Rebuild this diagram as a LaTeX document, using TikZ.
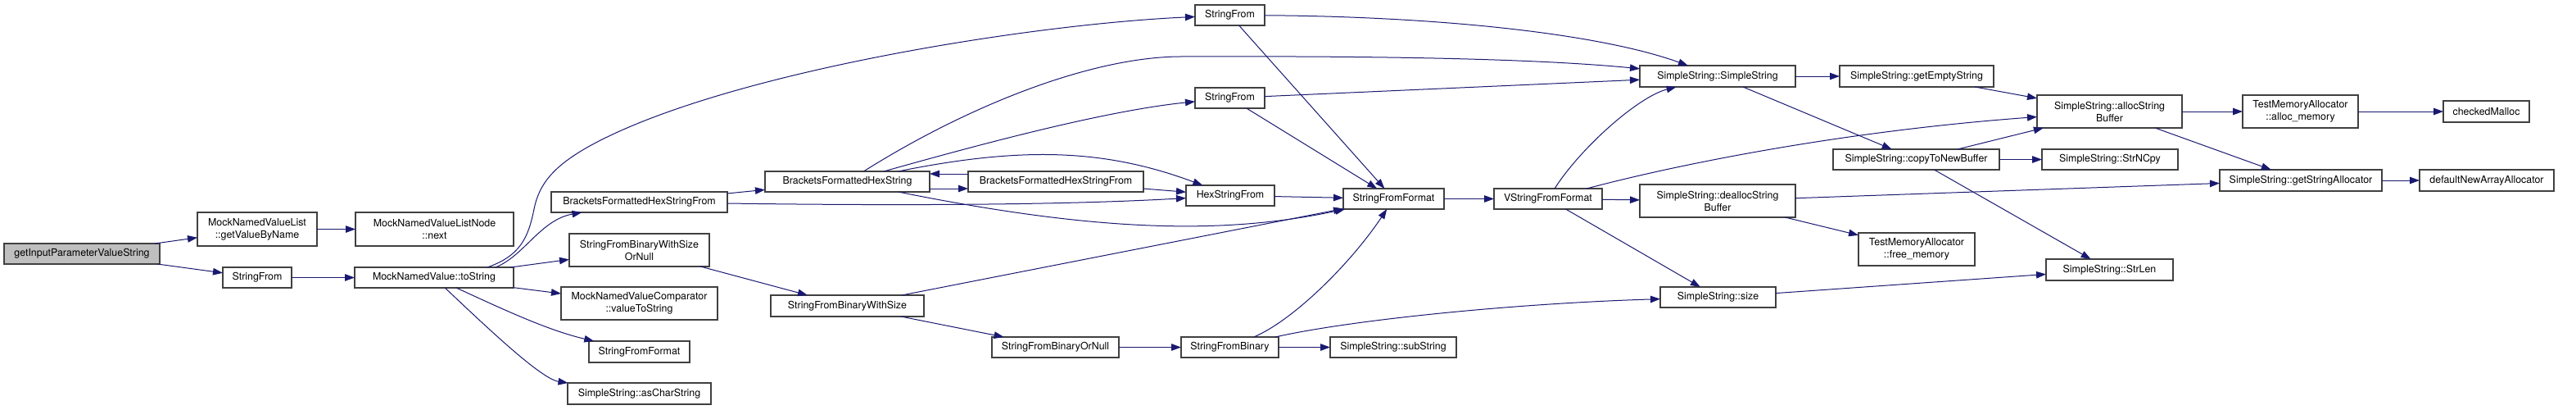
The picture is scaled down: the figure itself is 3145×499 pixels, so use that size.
\documentclass[tikz,border=0pt]{standalone}
\usepackage{fontspec}
\setmainfont{TeX Gyre Heros}
\usetikzlibrary{arrows.meta}
\definecolor{callblue}{HTML}{191970}
\definecolor{boxline}{HTML}{404040}
\definecolor{rootgray}{HTML}{BFBFBF}

\begin{document}
\begin{tikzpicture}[x=1pt,y=-1pt,
  fn/.style={draw=boxline, line width=1.1pt, fill=white, inner sep=0pt, outer sep=0pt,
    align=center, font=\fontsize{12.4}{15}\selectfont},
  call/.style={draw=callblue, line width=1pt, -{Triangle[length=12pt,width=8.5pt]}}]
  \useasboundingbox (0,0) rectangle (3145,499);

  \node[fn, fill=rootgray, minimum width=190pt, minimum height=25pt] (root) at (100,309.5) {getInputParameterValueString};
  \node[fn, minimum width=146pt, minimum height=41pt] (gvbn) at (314,279.5) {MockNamedValueList\\::getValueByName};
  \node[fn, minimum width=193pt, minimum height=41pt] (next) at (530.5,279.5) {MockNamedValueListNode\\::next};
  \node[fn, minimum width=84pt, minimum height=25pt] (sf1) at (314,338.5) {StringFrom};
  \node[fn, minimum width=194pt, minimum height=25pt] (tostr) at (530,338.5) {MockNamedValue::toString};
  \node[fn, minimum width=215pt, minimum height=25pt] (bfhsf1) at (780.5,246.5) {BracketsFormattedHexStringFrom};
  \node[fn, minimum width=171pt, minimum height=40pt] (sfbwson) at (780.5,305) {StringFromBinaryWithSize\\OrNull};
  \node[fn, minimum width=191pt, minimum height=40pt] (cmpvts) at (780.5,370) {MockNamedValueComparator\\::valueToString};
  \node[fn, minimum width=123pt, minimum height=26pt] (sffb) at (780.5,429) {StringFromFormat};
  \node[fn, minimum width=175pt, minimum height=26pt] (asch) at (780.5,480) {SimpleString::asCharString};
  \node[fn, minimum width=201pt, minimum height=25pt] (bfhs) at (1034.5,221.5) {BracketsFormattedHexString};
  \node[fn, minimum width=187pt, minimum height=26pt] (sfbws) at (1034.5,373) {StringFromBinaryWithSize};
  \node[fn, minimum width=214pt, minimum height=25pt] (bfhsf2) at (1289,221.5) {BracketsFormattedHexStringFrom};
  \node[fn, minimum width=155pt, minimum height=25pt] (sfbon) at (1288.5,423.5) {StringFromBinaryOrNull};
  \node[fn, minimum width=85pt, minimum height=25pt] (sft) at (1501.5,18.5) {StringFrom};
  \node[fn, minimum width=85pt, minimum height=25pt] (sfm) at (1501.5,119.5) {StringFrom};
  \node[fn, minimum width=108pt, minimum height=25pt] (hexsf) at (1502,238.5) {HexStringFrom};
  \node[fn, minimum width=119pt, minimum height=25pt] (sfb) at (1501.5,423.5) {StringFromBinary};
  \node[fn, minimum width=123pt, minimum height=25pt] (sff) at (1701.5,242.5) {StringFromFormat};
  \node[fn, minimum width=154pt, minimum height=25pt] (substr) at (1701,423.5) {SimpleString::subString};
  \node[fn, minimum width=132pt, minimum height=25pt] (vsff) at (1890,242.5) {VStringFromFormat};
  \node[fn, minimum width=190pt, minimum height=26pt] (sss) at (2097,93) {SimpleString::SimpleString};
  \node[fn, minimum width=190pt, minimum height=40pt] (dsb) at (2097,245) {SimpleString::deallocString\\Buffer};
  \node[fn, minimum width=141pt, minimum height=25pt] (size) at (2097.5,362.5) {SimpleString::size};
  \node[fn, minimum width=188pt, minimum height=26pt] (ges) at (2340,93) {SimpleString::getEmptyString};
  \node[fn, minimum width=203pt, minimum height=25pt] (ctnb) at (2339.5,194.5) {SimpleString::copyToNewBuffer};
  \node[fn, minimum width=142pt, minimum height=40pt] (freemem) at (2340,304) {TestMemoryAllocator\\::free\_memory};
  \node[fn, minimum width=177pt, minimum height=40pt] (asb) at (2575.5,136) {SimpleString::allocString\\Buffer};
  \node[fn, minimum width=166pt, minimum height=25pt] (strncpy) at (2576,194.5) {SimpleString::StrNCpy};
  \node[fn, minimum width=155pt, minimum height=26pt] (strlen) at (2575.5,329) {SimpleString::StrLen};
  \node[fn, minimum width=141pt, minimum height=40pt] (allocmem) at (2808.5,136) {TestMemoryAllocator\\::alloc\_memory};
  \node[fn, minimum width=198pt, minimum height=26pt] (gsa) at (2809,220) {SimpleString::getStringAllocator};
  \node[fn, minimum width=105pt, minimum height=26pt] (cmalloc) at (3035.5,136) {checkedMalloc};
  \node[fn, minimum width=164pt, minimum height=26pt] (dnaa) at (3036,220) {defaultNewArrayAllocator};

  \draw[call] (root) -- (gvbn);
  \draw[call] (root) -- (sf1);
  \draw[call] (gvbn) -- (next);
  \draw[call] (sf1) -- (tostr);
  \draw[call] ([xshift=65pt]tostr.north) .. controls (635,312) and (645,290) .. (652,255)
    .. controls (658,225) and (675,203) .. (720,178) .. controls (880,90) and (1250,30) .. (sft);
  \draw[call] ([xshift=75pt]tostr.north) .. controls (640,312) and (660,268) .. (bfhsf1);
  \draw[call] (tostr) -- (sfbwson);
  \draw[call] (tostr) -- (cmpvts);
  \draw[call] (tostr) .. controls (620,380) and (670,403) .. (sffb);
  \draw[call] (tostr) .. controls (590,395) and (660,462) .. (asch);
  \draw[call] (bfhsf1) -- (bfhs);
  \draw[call] (bfhsf1) .. controls (1100,251) and (1300,250) .. (hexsf);
  \draw[call] (sfbwson) -- (sfbws);
  \draw[call] (bfhs) .. controls (1180,130) and (1330,70) .. (1440,69)
    .. controls (1700,68) and (1880,72) .. (sss);
  \draw[call] (bfhs) .. controls (1200,175) and (1350,135) .. (sfm);
  \draw[call] (bfhs) .. controls (1250,178) and (1350,182) .. (hexsf);
  \draw[call] ([yshift=-8.5pt]bfhs.east) -- ([yshift=-8.5pt]bfhsf2.west);
  \draw[call] ([yshift=9.5pt]bfhsf2.west) -- ([yshift=9.5pt]bfhs.east);
  \draw[call] (bfhsf2) -- (hexsf);
  \draw[call] (bfhs) .. controls (1350,285) and (1500,285) .. (sff);
  \draw[call] (sfbws) -- (sff);
  \draw[call] (sfbws) -- (sfbon);
  \draw[call] (sfbon) -- (sfb);
  \draw[call] (sft) .. controls (1750,20) and (1950,40) .. (sss);
  \draw[call] (sft) -- (sff);
  \draw[call] (sfm) -- (sss);
  \draw[call] (sfm) -- (sff);
  \draw[call] (hexsf) -- (sff);
  \draw[call] (sfb) .. controls (1580,390) and (1650,320) .. (sff);
  \draw[call] (sfb) .. controls (1650,390) and (1850,370) .. (size);
  \draw[call] (sfb) -- (substr);
  \draw[call] (sff) -- (vsff);
  \draw[call] (vsff) .. controls (1930,180) and (2000,118) .. (sss);
  \draw[call] (vsff) .. controls (2050,200) and (2250,160) .. (asb);
  \draw[call] (vsff) -- (dsb);
  \draw[call] (vsff) -- (size);
  \draw[call] (sss) -- (ges);
  \draw[call] (sss) -- (ctnb);
  \draw[call] (ges) -- (asb);
  \draw[call] (ctnb) -- (asb);
  \draw[call] (ctnb) -- (strncpy);
  \draw[call] (ctnb) -- (strlen);
  \draw[call] (dsb) -- (gsa);
  \draw[call] (dsb) -- (freemem);
  \draw[call] (size) -- (strlen);
  \draw[call] (asb) -- (allocmem);
  \draw[call] (asb) -- (gsa);
  \draw[call] (allocmem) -- (cmalloc);
  \draw[call] (gsa) -- (dnaa);
\end{tikzpicture}
\end{document}
